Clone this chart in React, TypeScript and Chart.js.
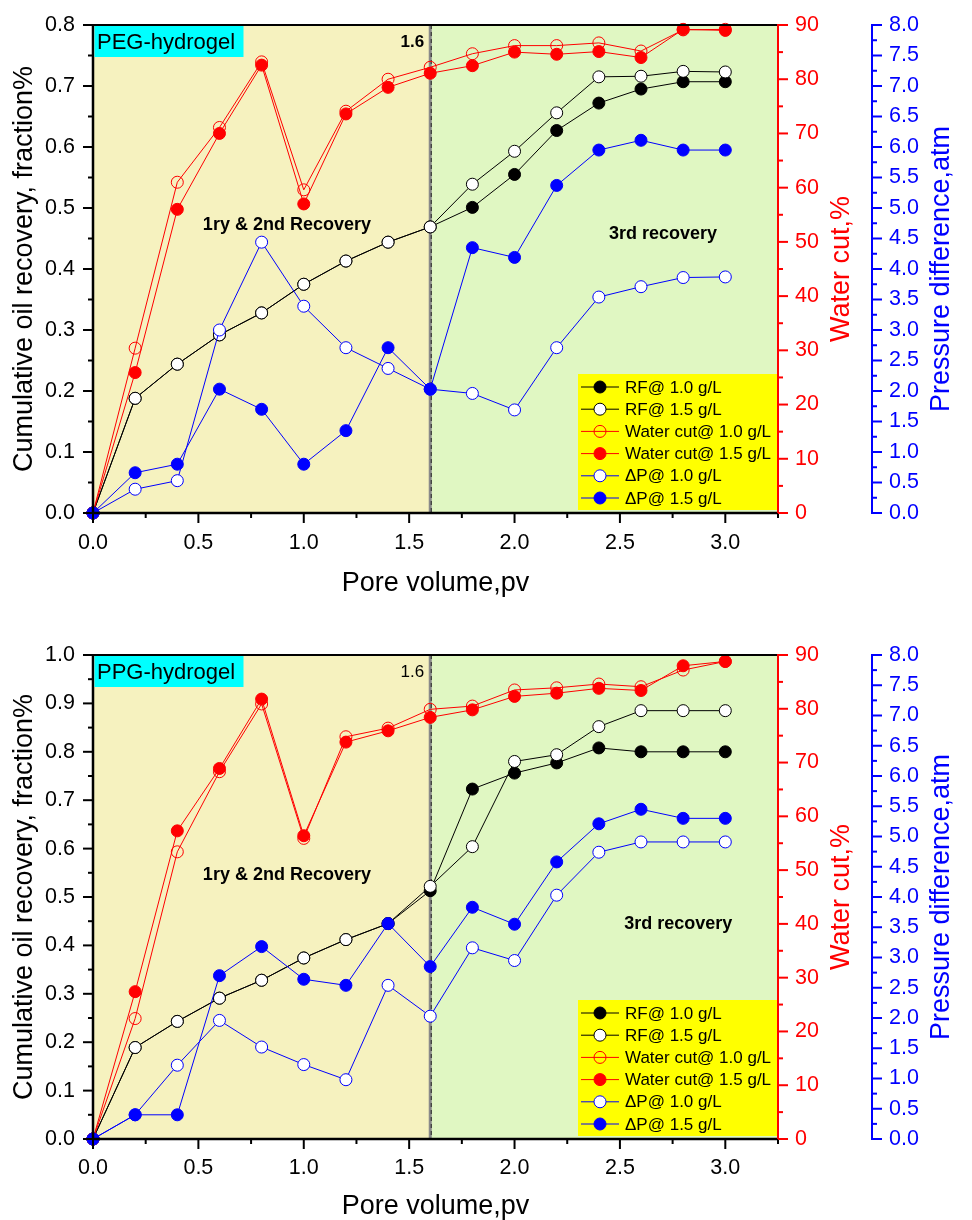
import React, { useEffect, useRef } from "react";
import { Chart, registerables } from "chart.js";

Chart.register(...registerables);

const FONT = "'Liberation Sans', Arial, Helvetica, sans-serif";
const RED = "#FF0000";
const BLUE = "#0000FF";
const BLACK = "#000000";
const WHITE = "#FFFFFF";
const HOLLOW = "rgba(0,0,0,0)";
const YELLOW_BG = "#F6F2BF";
const GREEN_BG = "#E0F7C2";

// ---------- data ----------
const pvValues = [0, 0.2, 0.4, 0.6, 0.8, 1.0, 1.2, 1.4, 1.6, 1.8, 2.0, 2.2, 2.4, 2.6, 2.8, 3.0];

// PEG-hydrogel (top panel)
const pegRf10 = [0, 0.188, 0.244, 0.292, 0.328, 0.375, 0.413, 0.444, 0.469, 0.501, 0.555, 0.627, 0.672, 0.695, 0.707, 0.707];
const pegRf15 = [0, 0.188, 0.244, 0.292, 0.328, 0.375, 0.413, 0.444, 0.469, 0.539, 0.593, 0.656, 0.715, 0.716, 0.724, 0.723];
const pegWc10 = [0, 30.4, 61.0, 71.1, 83.2, 59.6, 74.1, 80.0, 82.2, 84.7, 86.2, 86.2, 86.7, 85.2, 89.1, 89.2];
const pegWc15 = [0, 25.9, 56.0, 70.0, 82.6, 57.0, 73.6, 78.5, 81.1, 82.5, 85.0, 84.6, 85.1, 84.0, 89.2, 89.0];
const pegDp10 = [0, 0.39, 0.53, 3.0, 4.44, 3.39, 2.71, 2.37, 2.03, 1.96, 1.69, 2.71, 3.54, 3.71, 3.86, 3.87];
const pegDp15 = [0, 0.66, 0.80, 2.03, 1.70, 0.80, 1.35, 2.71, 2.03, 4.35, 4.19, 5.37, 5.95, 6.11, 5.95, 5.95];

// PPG-hydrogel (bottom panel)
const ppgRf10 = [0, 0.189, 0.243, 0.291, 0.328, 0.374, 0.412, 0.445, 0.513, 0.723, 0.756, 0.777, 0.808, 0.800, 0.800, 0.800];
const ppgRf15 = [0, 0.189, 0.243, 0.291, 0.328, 0.374, 0.412, 0.445, 0.522, 0.604, 0.780, 0.794, 0.852, 0.885, 0.885, 0.885];
const ppgWc10 = [0, 22.4, 53.4, 68.3, 80.9, 55.9, 74.8, 76.4, 79.9, 80.5, 83.5, 83.9, 84.6, 84.1, 87.2, 88.8];
const ppgWc15 = [0, 27.4, 57.3, 68.9, 81.8, 56.4, 73.8, 75.9, 78.4, 79.8, 82.3, 82.9, 83.8, 83.4, 88.0, 88.8];
const ppgDp10 = [0, 0.40, 1.22, 1.96, 1.52, 1.23, 0.98, 2.54, 2.03, 3.16, 2.95, 4.03, 4.74, 4.91, 4.91, 4.91];
const ppgDp15 = [0, 0.40, 0.40, 2.70, 3.18, 2.64, 2.54, 3.56, 2.85, 3.83, 3.55, 4.58, 5.21, 5.45, 5.30, 5.30];

const seriesLabels = [
  "RF@ 1.0 g/L",
  "RF@ 1.5 g/L",
  "Water cut@ 1.0 g/L",
  "Water cut@ 1.5 g/L",
  "\u0394P@ 1.0 g/L",
  "\u0394P@ 1.5 g/L",
];

// ---------- ticks ----------
const xMajorTicks = [0, 0.5, 1.0, 1.5, 2.0, 2.5, 3.0];
const xMinorTicks = [0.25, 0.75, 1.25, 1.75, 2.25, 2.75, 3.25];
const pegLeftMajor = [0, 0.1, 0.2, 0.3, 0.4, 0.5, 0.6, 0.7, 0.8];
const pegLeftMinor = [0.05, 0.15, 0.25, 0.35, 0.45, 0.55, 0.65, 0.75];
const ppgLeftMajor = [0, 0.1, 0.2, 0.3, 0.4, 0.5, 0.6, 0.7, 0.8, 0.9, 1.0];
const ppgLeftMinor = [0.05, 0.15, 0.25, 0.35, 0.45, 0.55, 0.65, 0.75, 0.85, 0.95];
const wcMajor = [0, 10, 20, 30, 40, 50, 60, 70, 80, 90];
const wcMinor = [5, 15, 25, 35, 45, 55, 65, 75, 85];
const dpMajor = [0, 0.5, 1.0, 1.5, 2.0, 2.5, 3.0, 3.5, 4.0, 4.5, 5.0, 5.5, 6.0, 6.5, 7.0, 7.5, 8.0];
const dpMinor = [0.25, 0.75, 1.25, 1.75, 2.25, 2.75, 3.25, 3.75, 4.25, 4.75, 5.25, 5.75, 6.25, 6.75, 7.25, 7.75];

type PanelParams = {
  tag: string;
  oneSixBold: boolean;
  leftMax: number;
  leftMajor: number[];
  leftMinor: number[];
  padTop: number;
  xAxisHeight: number;
  xTickPad: number;
  xTitlePad: number;
  zoneLabel: [number, number];
  thirdLabel: [number, number];
  series: number[][];
};

function pts(vals: number[]) {
  return pvValues.map((x, i) => ({ x, y: vals[i] }));
}

function makeDatasets(s: number[][]) {
  const base = {
    borderWidth: 1,
    pointRadius: 6,
    pointHoverRadius: 6,
    pointBorderWidth: 1,
    tension: 0,
    fill: false,
    clip: false as any,
  };
  return [
    { ...base, label: seriesLabels[0], data: pts(s[0]), yAxisID: "y", borderColor: BLACK, backgroundColor: BLACK, pointBackgroundColor: BLACK, pointBorderColor: BLACK, order: 6 },
    { ...base, label: seriesLabels[1], data: pts(s[1]), yAxisID: "y", borderColor: BLACK, backgroundColor: WHITE, pointBackgroundColor: WHITE, pointBorderColor: BLACK, order: 5 },
    { ...base, label: seriesLabels[2], data: pts(s[2]), yAxisID: "y1", borderColor: RED, backgroundColor: HOLLOW, pointBackgroundColor: HOLLOW, pointBorderColor: RED, order: 4 },
    { ...base, label: seriesLabels[3], data: pts(s[3]), yAxisID: "y1", borderColor: RED, backgroundColor: RED, pointBackgroundColor: RED, pointBorderColor: RED, order: 3 },
    { ...base, label: seriesLabels[4], data: pts(s[4]), yAxisID: "y2", borderColor: BLUE, backgroundColor: WHITE, pointBackgroundColor: WHITE, pointBorderColor: BLUE, order: 2 },
    { ...base, label: seriesLabels[5], data: pts(s[5]), yAxisID: "y2", borderColor: BLUE, backgroundColor: BLUE, pointBackgroundColor: BLUE, pointBorderColor: BLUE, order: 1 },
  ];
}

function makePlugin(p: PanelParams) {
  const split = 1.6;
  const line = (ctx: CanvasRenderingContext2D, x1: number, y1: number, x2: number, y2: number) => {
    ctx.beginPath();
    ctx.moveTo(x1, y1);
    ctx.lineTo(x2, y2);
    ctx.stroke();
  };
  const drawScaleTicks = (
    ctx: CanvasRenderingContext2D,
    scale: any,
    majors: number[],
    minors: number[],
    color: string,
    side: string
  ) => {
    ctx.strokeStyle = color;
    ctx.lineWidth = 2;
    const one = (v: number, len: number) => {
      const px = scale.getPixelForValue(v);
      if (side === "bottom") line(ctx, px, scale.top, px, scale.top + len);
      else if (side === "left") line(ctx, scale.right - len, px, scale.right, px);
      else line(ctx, scale.left, px, scale.left + len, px);
    };
    majors.forEach((v) => one(v, 10));
    minors.forEach((v) => one(v, 5));
  };
  return {
    id: "panelDecor",
    beforeDraw(chart: any) {
      const { ctx, chartArea: ca, scales } = chart;
      const xs = scales.x.getPixelForValue(split);
      ctx.save();
      ctx.fillStyle = YELLOW_BG;
      ctx.fillRect(ca.left, ca.top, xs - ca.left, ca.bottom - ca.top);
      ctx.fillStyle = GREEN_BG;
      ctx.fillRect(xs, ca.top, ca.right - xs, ca.bottom - ca.top);
      // divider at 1.6 pv
      ctx.strokeStyle = "#8A8A8A";
      ctx.lineWidth = 3;
      line(ctx, xs, ca.top, xs, ca.bottom);
      ctx.strokeStyle = "#222222";
      ctx.lineWidth = 1;
      ctx.setLineDash([4, 3]);
      line(ctx, xs + 1, ca.top, xs + 1, ca.bottom);
      ctx.setLineDash([]);
      // zone annotations
      ctx.fillStyle = BLACK;
      ctx.font = `bold 18px ${FONT}`;
      ctx.textAlign = "center";
      ctx.textBaseline = "middle";
      ctx.fillText("1ry & 2nd Recovery", scales.x.getPixelForValue(p.zoneLabel[0]), scales.y.getPixelForValue(p.zoneLabel[1]));
      ctx.fillText("3rd recovery", scales.x.getPixelForValue(p.thirdLabel[0]), scales.y.getPixelForValue(p.thirdLabel[1]));
      ctx.restore();
    },
    afterDraw(chart: any) {
      const { ctx, chartArea: ca, scales } = chart;
      const xs = scales.x.getPixelForValue(split);
      ctx.save();
      // axis lines and frame
      ctx.strokeStyle = BLACK;
      ctx.lineWidth = 2.5;
      line(ctx, ca.left, ca.top, ca.left, ca.bottom + 1);
      line(ctx, ca.left - 1, ca.bottom, ca.right, ca.bottom);
      ctx.lineWidth = 2;
      line(ctx, ca.left, ca.top, ca.right, ca.top);
      ctx.strokeStyle = RED;
      line(ctx, ca.right, ca.top - 1, ca.right, ca.bottom + 1);
      ctx.strokeStyle = BLUE;
      line(ctx, scales.y2.left, ca.top - 1, scales.y2.left, ca.bottom + 1);
      // ticks
      drawScaleTicks(ctx, scales.x, xMajorTicks, xMinorTicks, BLACK, "bottom");
      drawScaleTicks(ctx, scales.y, p.leftMajor, p.leftMinor, BLACK, "left");
      drawScaleTicks(ctx, scales.y1, wcMajor, wcMinor, RED, "right");
      drawScaleTicks(ctx, scales.y2, dpMajor, dpMinor, BLUE, "right");
      // right axis titles (reading bottom to top)
      const cy = (ca.top + ca.bottom) / 2;
      ctx.font = `27px ${FONT}`;
      ctx.textAlign = "center";
      ctx.textBaseline = "alphabetic";
      ctx.save();
      ctx.translate(scales.y1.left + 71, cy);
      ctx.rotate(-Math.PI / 2);
      ctx.fillStyle = RED;
      ctx.fillText("Water cut,%", 0, 0);
      ctx.restore();
      ctx.save();
      ctx.translate(scales.y2.left + 77, cy);
      ctx.rotate(-Math.PI / 2);
      ctx.fillStyle = BLUE;
      ctx.fillText("Pressure difference,atm", 0, 0);
      ctx.restore();
      // hydrogel tag
      ctx.fillStyle = "#00FFFF";
      ctx.fillRect(ca.left + 1.5, ca.top + 1, 149, 31);
      ctx.fillStyle = BLACK;
      ctx.font = `22px ${FONT}`;
      ctx.textAlign = "left";
      ctx.textBaseline = "alphabetic";
      ctx.fillText(p.tag, ca.left + 4, ca.top + 24);
      // 1.6 label
      ctx.font = `${p.oneSixBold ? "bold " : ""}17px ${FONT}`;
      ctx.textAlign = "right";
      ctx.fillText("1.6", xs - 6, ca.top + 22);
      // legend
      const lw = 200;
      const lh = 136;
      const lx = ca.right - lw;
      const ly = ca.bottom - 3 - lh;
      ctx.fillStyle = "#FFFF00";
      ctx.fillRect(lx, ly, lw - 1, lh);
      ctx.font = `17px ${FONT}`;
      ctx.textAlign = "left";
      ctx.textBaseline = "middle";
      chart.data.datasets.forEach((ds: any, i: number) => {
        const rowY = ly + 13 + i * 22.2;
        ctx.strokeStyle = ds.borderColor;
        ctx.lineWidth = 1;
        line(ctx, lx + 3, rowY, lx + 41, rowY);
        ctx.beginPath();
        ctx.arc(lx + 22, rowY, 6, 0, Math.PI * 2);
        ctx.fillStyle = ds.pointBackgroundColor;
        ctx.fill();
        ctx.strokeStyle = ds.pointBorderColor;
        ctx.stroke();
        ctx.fillStyle = BLACK;
        ctx.fillText(ds.label, lx + 47, rowY + 1);
      });
      ctx.restore();
    },
  };
}

function makeConfig(p: PanelParams): any {
  const tickFont = { family: FONT, size: 21.5 };
  const hiddenTickGrid = {
    display: true,
    drawOnChartArea: false,
    drawTicks: true,
    tickLength: 10,
    tickColor: "rgba(0,0,0,0)",
  };
  return {
    type: "line",
    data: { datasets: makeDatasets(p.series) },
    plugins: [makePlugin(p)],
    options: {
      animation: false,
      responsive: false,
      devicePixelRatio: 1,
      events: [],
      layout: { padding: { top: p.padTop, left: 0, right: 0, bottom: 0 } },
      plugins: { legend: { display: false }, tooltip: { enabled: false } },
      scales: {
        x: {
          type: "linear",
          position: "bottom",
          min: 0,
          max: 3.25,
          afterBuildTicks: (s: any) => {
            s.ticks = xMajorTicks.map((v) => ({ value: v }));
          },
          afterFit: (s: any) => {
            s.height = p.xAxisHeight;
          },
          ticks: {
            padding: p.xTickPad,
            font: tickFont,
            color: BLACK,
            autoSkip: false,
            maxRotation: 0,
            callback: (v: any) => Number(v).toFixed(1),
          },
          grid: hiddenTickGrid,
          border: { display: false },
          title: {
            display: true,
            text: "Pore volume,pv",
            color: BLACK,
            font: { family: FONT, size: 27, lineHeight: 1 },
            padding: { top: 0, bottom: p.xTitlePad },
          },
        },
        y: {
          type: "linear",
          position: "left",
          min: 0,
          max: p.leftMax,
          afterBuildTicks: (s: any) => {
            s.ticks = p.leftMajor.map((v) => ({ value: v }));
          },
          afterFit: (s: any) => {
            s.width = 93;
          },
          ticks: {
            padding: 8,
            font: tickFont,
            color: BLACK,
            autoSkip: false,
            callback: (v: any) => Number(v).toFixed(1),
          },
          grid: hiddenTickGrid,
          border: { display: false },
          title: {
            display: true,
            text: "Cumulative oil recovery, fraction%",
            color: BLACK,
            font: { family: FONT, size: 27, lineHeight: 1 },
            padding: { top: 11, bottom: 0 },
          },
        },
        y1: {
          type: "linear",
          position: "right",
          min: 0,
          max: 90,
          afterBuildTicks: (s: any) => {
            s.ticks = wcMajor.map((v) => ({ value: v }));
          },
          afterFit: (s: any) => {
            s.width = 94;
          },
          ticks: {
            padding: 7,
            font: tickFont,
            color: RED,
            autoSkip: false,
            callback: (v: any) => String(Math.round(Number(v))),
          },
          grid: hiddenTickGrid,
          border: { display: false },
          title: { display: false },
        },
        y2: {
          type: "linear",
          position: "right",
          min: 0,
          max: 8,
          afterBuildTicks: (s: any) => {
            s.ticks = dpMajor.map((v) => ({ value: v }));
          },
          afterFit: (s: any) => {
            s.width = 100;
          },
          ticks: {
            padding: 7,
            font: tickFont,
            color: BLUE,
            autoSkip: false,
            callback: (v: any) => Number(v).toFixed(1),
          },
          grid: hiddenTickGrid,
          border: { display: false },
          title: { display: false },
        },
      },
    },
  };
}

const pegPanel: PanelParams = {
  tag: "PEG-hydrogel",
  oneSixBold: true,
  leftMax: 0.8,
  leftMajor: pegLeftMajor,
  leftMinor: pegLeftMinor,
  padTop: 25,
  xAxisHeight: 92,
  xTickPad: 7,
  xTitlePad: 8,
  zoneLabel: [0.92, 0.4725],
  thirdLabel: [2.704, 0.4566],
  series: [pegRf10, pegRf15, pegWc10, pegWc15, pegDp10, pegDp15],
};

const ppgPanel: PanelParams = {
  tag: "PPG-hydrogel",
  oneSixBold: false,
  leftMax: 1.0,
  leftMajor: ppgLeftMajor,
  leftMinor: ppgLeftMinor,
  padTop: 50,
  xAxisHeight: 81,
  xTickPad: 6,
  xTitlePad: 0,
  zoneLabel: [0.92, 0.546],
  thirdLabel: [2.777, 0.4435],
  series: [ppgRf10, ppgRf15, ppgWc10, ppgWc15, ppgDp10, ppgDp15],
};

function Panel({ params, top, height }: { params: PanelParams; top: number; height: number }) {
  const ref = useRef<HTMLCanvasElement>(null);
  useEffect(() => {
    if (!ref.current) return;
    const chart = new Chart(ref.current, makeConfig(params));
    return () => chart.destroy();
  }, [params]);
  return (
    <div style={{ position: "absolute", left: 0, top, width: 972, height }}>
      <canvas ref={ref} width={972} height={height} style={{ display: "block", width: 972, height }} />
    </div>
  );
}

export default function App() {
  return (
    <div style={{ position: "absolute", left: 0, top: 0, width: 972, height: 1220, background: "#FFFFFF", overflow: "hidden" }}>
      <Panel params={pegPanel} top={0} height={605} />
      <Panel params={ppgPanel} top={605} height={615} />
    </div>
  );
}
